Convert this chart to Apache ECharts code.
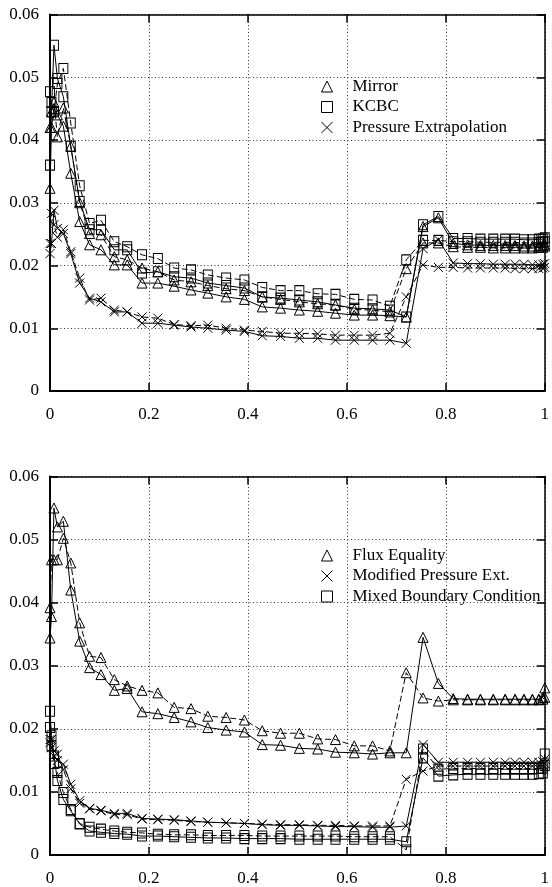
<!DOCTYPE html>
<html>
<head>
<meta charset="utf-8">
<script src="https://cdn.jsdelivr.net/npm/echarts@6/dist/echarts.min.js"></script>
<style>
html,body{margin:0;padding:0;background:#fff;}
#c{width:552px;height:887px;}
</style>
</head>
<body>
<div id="c"></div>
<script>
const X = [0, 0.003, 0.008, 0.015, 0.027, 0.042, 0.06, 0.08, 0.103, 0.13,
  0.156, 0.186, 0.218, 0.251, 0.285, 0.319, 0.356, 0.393, 0.429, 0.466,
  0.504, 0.541, 0.577, 0.615, 0.652, 0.687, 0.72, 0.754, 0.785, 0.815,
  0.844, 0.87, 0.896, 0.92, 0.94, 0.958, 0.975, 0.988, 0.996, 1.0];

const xTickLabels = ['0', '0.2', '0.4', '0.6', '0.8', '1'];
const yTickLabels = ['0', '0.01', '0.02', '0.03', '0.04', '0.05', '0.06'];

const topNames = ['Mirror', 'KCBC', 'Pressure Extrapolation'];
const bottomNames = ['Flux Equality', 'Modified Pressure Ext.', 'Mixed Boundary Condition'];

// Top panel
const mirrorSolid = [0.0323,0.0420,0.0450,0.0440,0.0422,0.0347,0.0270,0.0233,0.0225,0.0201,
  0.0201,0.0172,0.0172,0.0167,0.0161,0.0156,0.0150,0.0146,0.0134,0.0132,
  0.0129,0.0127,0.0124,0.0121,0.0121,0.0120,0.0118,0.0262,0.0276,0.0235,
  0.0233,0.0232,0.0232,0.0232,0.0232,0.0231,0.0231,0.0231,0.0232,0.0234];
const mirrorDashed = [0.0420,0.0445,0.0460,0.0405,0.0451,0.0390,0.0300,0.0251,0.0249,0.0214,
  0.0209,0.0196,0.0190,0.0177,0.0174,0.0168,0.0163,0.0160,0.0150,0.0146,
  0.0142,0.0139,0.0137,0.0130,0.0129,0.0126,0.0195,0.0236,0.0236,0.0230,
  0.0229,0.0229,0.0228,0.0228,0.0228,0.0228,0.0228,0.0229,0.0229,0.0231];
const kcbcSolid = [0.0360,0.0445,0.0551,0.0498,0.0469,0.0390,0.0302,0.0257,0.0257,0.0225,
  0.0225,0.0188,0.0190,0.0182,0.0180,0.0172,0.0168,0.0164,0.0150,0.0148,
  0.0145,0.0142,0.0137,0.0132,0.0131,0.0129,0.0118,0.0265,0.0278,0.0243,
  0.0243,0.0242,0.0242,0.0242,0.0242,0.0241,0.0241,0.0242,0.0242,0.0244];
const kcbcDashed = [0.0477,0.0460,0.0445,0.0490,0.0514,0.0427,0.0327,0.0267,0.0272,0.0238,
  0.0230,0.0217,0.0211,0.0196,0.0193,0.0185,0.0180,0.0177,0.0165,0.0160,
  0.0160,0.0155,0.0154,0.0146,0.0145,0.0135,0.0209,0.0240,0.0240,0.0238,
  0.0238,0.0237,0.0237,0.0237,0.0237,0.0236,0.0236,0.0237,0.0237,0.0238];
const peSolid = [0.0219,0.0235,0.0288,0.0259,0.0251,0.0219,0.0172,0.0148,0.0142,0.0126,
  0.0126,0.0108,0.0108,0.0105,0.0102,0.0100,0.0097,0.0095,0.0088,0.0087,
  0.0084,0.0084,0.0081,0.0081,0.0081,0.0081,0.0076,0.0227,0.0241,0.0204,
  0.0203,0.0203,0.0202,0.0202,0.0202,0.0202,0.0201,0.0201,0.0202,0.0203];
const peDashed = [0.0235,0.0283,0.0265,0.0245,0.0257,0.0222,0.0180,0.0145,0.0148,0.0129,
  0.0126,0.0118,0.0116,0.0106,0.0104,0.0105,0.0100,0.0097,0.0095,0.0092,
  0.0092,0.0091,0.0089,0.0089,0.0089,0.0092,0.0150,0.0201,0.0197,0.0197,
  0.0196,0.0196,0.0196,0.0196,0.0195,0.0195,0.0195,0.0195,0.0196,0.0197];

// Bottom panel
const fluxSolid = [0.0344,0.0378,0.0550,0.0520,0.0529,0.0420,0.0339,0.0297,0.0286,0.0261,
  0.0264,0.0227,0.0224,0.0218,0.0211,0.0202,0.0198,0.0195,0.0175,0.0174,
  0.0169,0.0168,0.0163,0.0162,0.0160,0.0162,0.0162,0.0345,0.0272,0.0248,
  0.0247,0.0247,0.0247,0.0247,0.0247,0.0247,0.0247,0.0247,0.0250,0.0265];
const fluxDashed = [0.0392,0.0468,0.0468,0.0468,0.0502,0.0463,0.0368,0.0315,0.0313,0.0278,
  0.0268,0.0261,0.0257,0.0234,0.0232,0.0220,0.0218,0.0214,0.0197,0.0193,
  0.0193,0.0184,0.0183,0.0173,0.0173,0.0165,0.0289,0.0249,0.0244,0.0246,
  0.0246,0.0246,0.0246,0.0246,0.0246,0.0246,0.0246,0.0246,0.0247,0.0250];
const mpeSolid = [0.0178,0.0183,0.0157,0.0150,0.0144,0.0112,0.0086,0.0074,0.0071,0.0066,
  0.0066,0.0058,0.0057,0.0056,0.0054,0.0052,0.0051,0.0050,0.0048,0.0047,
  0.0047,0.0046,0.0045,0.0045,0.0044,0.0044,0.0046,0.0175,0.0147,0.0147,
  0.0147,0.0147,0.0147,0.0147,0.0147,0.0147,0.0147,0.0147,0.0148,0.0152];
const mpeDashed = [0.0183,0.0170,0.0165,0.0160,0.0135,0.0105,0.0082,0.0073,0.0070,0.0064,
  0.0064,0.0057,0.0056,0.0055,0.0053,0.0052,0.0051,0.0050,0.0049,0.0048,
  0.0048,0.0047,0.0047,0.0046,0.0046,0.0046,0.0120,0.0133,0.0141,0.0141,
  0.0141,0.0141,0.0141,0.0141,0.0141,0.0141,0.0141,0.0141,0.0142,0.0145];
const mbcSolid = [0.0228,0.0189,0.0157,0.0118,0.0088,0.0070,0.0049,0.0038,0.0036,0.0034,
  0.0033,0.0030,0.0030,0.0029,0.0028,0.0027,0.0027,0.0026,0.0026,0.0026,
  0.0025,0.0025,0.0025,0.0025,0.0025,0.0025,0.0021,0.0154,0.0125,0.0127,
  0.0128,0.0128,0.0128,0.0128,0.0128,0.0128,0.0128,0.0129,0.0130,0.0160];
const mbcDashed = [0.0202,0.0173,0.0145,0.0131,0.0099,0.0072,0.0050,0.0044,0.0041,0.0038,
  0.0036,0.0035,0.0033,0.0032,0.0032,0.0031,0.0031,0.0031,0.0030,0.0030,
  0.0030,0.0030,0.0030,0.0029,0.0029,0.0029,0.0008,0.0168,0.0136,0.0137,
  0.0137,0.0137,0.0137,0.0137,0.0137,0.0137,0.0137,0.0137,0.0138,0.0142];

const FONT = 'Liberation Serif';
const CROSS = 'path://M0,0L10,10M10,0L0,10';
const SYM = {
  tri: {symbol: 'triangle', size: [10, 10]},
  sq: {symbol: 'rect', size: [9, 10]},
  x: {symbol: CROSS, size: [9, 9]}
};
const hollow = {color: 'rgba(0,0,0,0)', borderColor: '#000', borderWidth: 1};
const DASH = [6, 3];

function mk(name, vals, sym, dashed, gi) {
  return {
    type: 'line', name: name,
    xAxisIndex: gi * 2, yAxisIndex: gi * 2,
    data: X.map((x, i) => [x, vals[i]]),
    symbol: SYM[sym].symbol, symbolSize: SYM[sym].size,
    showAllSymbol: true,
    itemStyle: hollow,
    lineStyle: {color: '#000', width: 1, type: dashed ? DASH : 'solid'},
    emphasis: {disabled: true},
    animation: false, z: 3
  };
}

const grids = [
  {left: 50, top: 14.5, width: 501, height: 376.5},
  {left: 50, top: 476.5, width: 501, height: 379.5}
];

const xAxes = [], yAxes = [];
for (let g = 0; g < 2; g++) {
  xAxes.push({
    type: 'value', gridIndex: g, position: 'bottom', min: 0, max: 1, interval: 0.2,
    axisLine: {show: true, onZero: false, lineStyle: {color: '#000', width: 2}},
    axisTick: {show: true, inside: true, length: 8, lineStyle: {color: '#000', width: 1.5}},
    axisLabel: {show: true, margin: 15, color: '#000', fontFamily: FONT, fontSize: 17,
      formatter: (v) => xTickLabels[Math.round(v / 0.2)]},
    splitLine: {show: true, lineStyle: {color: '#333', width: 1, type: [1, 2.5]}}
  });
  xAxes.push({
    type: 'value', gridIndex: g, position: 'top', min: 0, max: 1, interval: 0.2,
    axisLine: {show: true, onZero: false, lineStyle: {color: '#000', width: 1.5}},
    axisTick: {show: true, inside: true, length: 8, lineStyle: {color: '#000', width: 1.5}},
    axisLabel: {show: false}, splitLine: {show: false}
  });
  yAxes.push({
    type: 'value', gridIndex: g, position: 'left', min: 0, max: 0.06, interval: 0.01,
    axisLine: {show: true, onZero: false, lineStyle: {color: '#000', width: 2}},
    axisTick: {show: true, inside: true, length: 8, lineStyle: {color: '#000', width: 1.5}},
    axisLabel: {show: true, margin: 11, color: '#000', fontFamily: FONT, fontSize: 17,
      formatter: (v) => yTickLabels[Math.round(v / 0.01)]},
    splitLine: {show: true, lineStyle: {color: '#333', width: 1, type: [1, 2.5]}}
  });
  yAxes.push({
    type: 'value', gridIndex: g, position: 'right', min: 0, max: 0.06, interval: 0.01,
    axisLine: {show: true, onZero: false, lineStyle: {color: '#000', width: 1.5}},
    axisTick: {show: true, inside: true, length: 8, lineStyle: {color: '#000', width: 1.5}},
    axisLabel: {show: false}, splitLine: {show: false}
  });
}

const topLegendIcons = ['triangle', 'rect', CROSS];
const bottomLegendIcons = ['triangle', CROSS, 'rect'];

const legendBase = {
  orient: 'vertical', left: 316, itemWidth: 11, itemHeight: 11, itemGap: 3.5,
  textStyle: {fontFamily: FONT, fontSize: 17, color: '#000', padding: [0, 0, 0, 15]},
  selectedMode: false, inactiveColor: '#000'
};

const option = {
  backgroundColor: '#fff',
  animation: false,
  grid: grids,
  xAxis: xAxes,
  yAxis: yAxes,
  legend: [
    Object.assign({}, legendBase, {top: 73, data: topNames.map((n, i) => ({
      name: n, icon: topLegendIcons[i], itemStyle: hollow}))}),
    Object.assign({}, legendBase, {top: 542, data: bottomNames.map((n, i) => ({
      name: n, icon: bottomLegendIcons[i], itemStyle: hollow}))})
  ],
  series: [
    mk(topNames[0], mirrorSolid, 'tri', false, 0),
    mk(topNames[0], mirrorDashed, 'tri', true, 0),
    mk(topNames[1], kcbcSolid, 'sq', false, 0),
    mk(topNames[1], kcbcDashed, 'sq', true, 0),
    mk(topNames[2], peSolid, 'x', false, 0),
    mk(topNames[2], peDashed, 'x', true, 0),
    mk(bottomNames[0], fluxSolid, 'tri', false, 1),
    mk(bottomNames[0], fluxDashed, 'tri', true, 1),
    mk(bottomNames[1], mpeSolid, 'x', false, 1),
    mk(bottomNames[1], mpeDashed, 'x', true, 1),
    mk(bottomNames[2], mbcSolid, 'sq', false, 1),
    mk(bottomNames[2], mbcDashed, 'sq', true, 1)
  ]
};

const chart = echarts.init(document.getElementById('c'), null, {renderer: 'canvas'});
chart.setOption(option);
</script>
</body>
</html>
